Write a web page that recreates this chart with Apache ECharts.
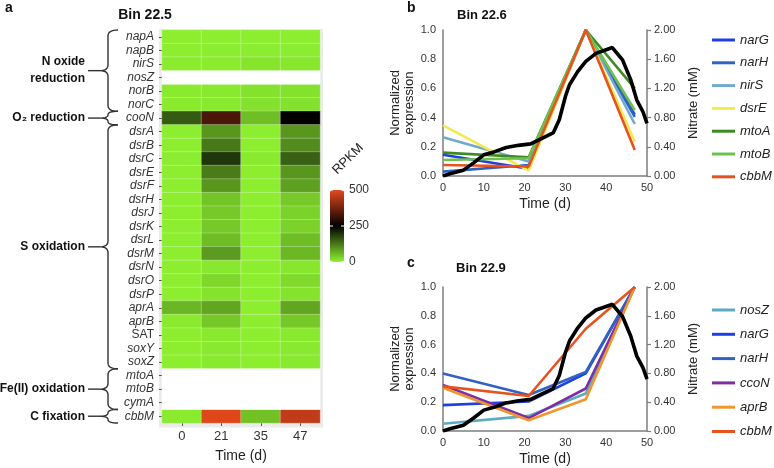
<!DOCTYPE html>
<html><head><meta charset="utf-8">
<script src="https://cdn.jsdelivr.net/npm/echarts@6/dist/echarts.min.js"></script>
<style>html,body{margin:0;padding:0;background:#fff}#c{width:774px;height:468px}</style>
</head><body><div id="c"></div>
<script>
// ---------- Panel a: heatmap data ----------
const genes = ['napA','napB','nirS','nosZ','norB','norC','cooN','dsrA','dsrB','dsrC','dsrE','dsrF','dsrH','dsrJ','dsrK','dsrL','dsrM','dsrN','dsrO','dsrP','aprA','aprB','SAT','soxY','soxZ','mtoA','mtoB','cymA','cbbM'];
const timepoints = ['0','21','35','47'];
const rpkmDay0  = [4,4,6,null,8,8,157,4,4,5,4,4,4,4,4,4,4,4,4,4,62,8,4,4,4,null,null,null,8];
const rpkmDay21 = [4,5,7,null,9,9,331,95,125,193,122,95,48,42,42,55,90,10,28,15,80,43,9,9,9,null,null,null,495];
const rpkmDay35 = [4,5,14,null,18,18,54,4,4,8,4,4,4,4,4,4,4,4,4,4,4,4,4,4,4,null,null,null,50];
const rpkmDay47 = [4,5,12,null,18,18,252,95,105,150,95,85,42,33,33,55,60,12,25,15,80,43,9,9,9,null,null,null,460];
const rpkmTicks = [0,250,500];
const groups = [
  {label:'N oxide\nreduction', from:'napA', to:'norC'},
  {label:'O\u2082 reduction', from:'cooN', to:'cooN'},
  {label:'S oxidation', from:'dsrA', to:'soxZ'},
  {label:'Fe(II) oxidation', from:'mtoA', to:'cymA'},
  {label:'C fixation', from:'cbbM', to:'cbbM'}
];

// ---------- Panels b, c: line data ----------
const sampleDays = [0,21,35,47];
const bGenes = ['narG','narH','nirS','dsrE','mtoA','mtoB','cbbM'];
const b_narG = [0.146,0.05,1.0,0.42];
const b_narH = [0.03,0.075,1.0,0.405];
const b_nirS = [0.265,0.10,1.0,0.356];
const b_dsrE = [0.347,0.037,1.0,0.235];
const b_mtoA = [0.16,0.128,1.0,0.60];
const b_mtoB = [0.11,0.122,1.0,0.45];
const b_cbbM = [0.075,0.065,1.0,0.178];
const cGenes = ['nosZ','narG','narH','ccoN','aprB','cbbM'];
const c_nosZ = [0.05,0.105,0.26,1.0];
const c_narG = [0.18,0.205,0.40,1.0];
const c_narH = [0.40,0.25,0.41,1.0];
const c_ccoN = [0.32,0.09,0.295,1.0];
const c_aprB = [0.30,0.075,0.22,1.0];
const c_cbbM = [0.31,0.243,0.71,1.0];
const nitrateDays = [0,1.7,5,7.5,10,12.5,15.5,18.5,21.5,24,27,28.5,30,31,33,35,37.5,40.5,41.5,44,46,47.5,49,50];
const nitrateMM   = [0,0.03,0.08,0.18,0.29,0.33,0.39,0.42,0.44,0.51,0.59,0.77,1.09,1.25,1.43,1.57,1.68,1.74,1.76,1.59,1.32,1.04,0.88,0.72];

const geneColors = {narG:'#1F3FE6', narH:'#3062C2', nirS:'#72AACF', dsrE:'#F2EA4E', mtoA:'#3B8A22', mtoB:'#6DC24E', cbbM:'#E8521F', nosZ:'#5DABC1', ccoN:'#7B2FA0', aprB:'#F0952F'};

const FONT = "'Liberation Sans', Arial, Helvetica, sans-serif";
const chart = echarts.init(document.getElementById('c'), null, {renderer:'canvas'});

// heatmap data
const cols = [rpkmDay0, rpkmDay21, rpkmDay35, rpkmDay47];
const heatData = [], naData = [];
genes.forEach((g,i)=>{ cols.forEach((col,j)=>{
  if (col[i] == null) naData.push([j,i,0]); else heatData.push([j,i,col[i]]);
});});

const bSeriesData = {narG:b_narG, narH:b_narH, nirS:b_nirS, dsrE:b_dsrE, mtoA:b_mtoA, mtoB:b_mtoB, cbbM:b_cbbM};
const cSeriesData = {nosZ:c_nosZ, narG:c_narG, narH:c_narH, ccoN:c_ccoN, aprB:c_aprB, cbbM:c_cbbM};
const pairs = (xs, ys) => xs.map((x,i)=>[x, ys[i]]);

const HM = {left:162, top:30, width:158, height:396.5};
const CB = {left:330, top:190, width:14, height:72};

const axisGrey = '#7d7d7d';
function lineXAxis(gi){ return {
  type:'value', gridIndex:gi, min:0, max:50, interval:10,
  axisLine:{show:true, lineStyle:{color:axisGrey, width:1.5}}, axisTick:{show:false}, splitLine:{show:false},
  axisLabel:{fontSize:11, color:'#333', margin:6, fontFamily:FONT},
  name:'Time (d)', nameLocation:'middle', nameGap:21, nameTextStyle:{fontSize:14, color:'#222', fontFamily:FONT}
};}
function leftYAxis(gi){ return {
  type:'value', gridIndex:gi, min:0, max:1, interval:0.2,
  axisLine:{show:true, lineStyle:{color:axisGrey, width:1.5}}, axisTick:{show:false}, splitLine:{show:false},
  axisLabel:{fontSize:11, color:'#333', margin:7, fontFamily:FONT, formatter:v=>v.toFixed(1)},
  name:'Normalized\nexpression', nameLocation:'middle', nameRotate:90, nameGap:24,
  nameTextStyle:{fontSize:13, color:'#222', lineHeight:14, fontFamily:FONT}
};}
function rightYAxis(gi){ return {
  type:'value', gridIndex:gi, position:'right', min:0, max:2, interval:0.4,
  axisLine:{show:true, lineStyle:{color:axisGrey, width:1.5}},
  axisTick:{show:true, length:4, lineStyle:{color:axisGrey, width:1.2}}, splitLine:{show:false},
  axisLabel:{fontSize:11, color:'#333', margin:7, fontFamily:FONT, formatter:v=>v.toFixed(2)},
  name:'Nitrate (mM)', nameLocation:'middle', nameRotate:90, nameGap:40,
  nameTextStyle:{fontSize:13, color:'#222', fontFamily:FONT}
};}

const series = [
  {type:'heatmap', name:'RPKM', xAxisIndex:0, yAxisIndex:0, data:heatData,
   itemStyle:{borderColor:'rgba(255,255,255,0.35)', borderWidth:0.8}, emphasis:{disabled:true}, z:2},
  {type:'heatmap', name:'NA', xAxisIndex:0, yAxisIndex:0, data:naData,
   itemStyle:{color:'#ffffff'}, emphasis:{disabled:true}, z:2}
];
bGenes.forEach(g=>series.push({type:'line', name:g, xAxisIndex:1, yAxisIndex:1, data:pairs(sampleDays, bSeriesData[g]),
  symbol:'none', lineStyle:{width:2.6, color:geneColors[g]}, itemStyle:{color:geneColors[g]}, z:3, emphasis:{disabled:true}}));
series.push({type:'line', name:'Nitrate b', xAxisIndex:1, yAxisIndex:2, data:pairs(nitrateDays, nitrateMM),
  symbol:'none', lineStyle:{width:3.6, color:'#000'}, itemStyle:{color:'#000'}, z:5, emphasis:{disabled:true}});
cGenes.forEach(g=>series.push({type:'line', name:g, xAxisIndex:2, yAxisIndex:3, data:pairs(sampleDays, cSeriesData[g]),
  symbol:'none', lineStyle:{width:2.6, color:geneColors[g]}, itemStyle:{color:geneColors[g]}, z:3, emphasis:{disabled:true}}));
series.push({type:'line', name:'Nitrate c', xAxisIndex:2, yAxisIndex:4, data:pairs(nitrateDays, nitrateMM),
  symbol:'none', lineStyle:{width:3.6, color:'#000'}, itemStyle:{color:'#000'}, z:5, emphasis:{disabled:true}});

const legendBase = {orient:'vertical', icon:'rect', itemWidth:23, itemHeight:3, padding:0, selectedMode:false,
  textStyle:{fontSize:13, fontStyle:'italic', color:'#222', lineHeight:14, fontFamily:FONT}};

const option = {
  animation:false,
  textStyle:{fontFamily:FONT},
  grid:[
    {left:HM.left, top:HM.top, width:HM.width, height:HM.height, containLabel:false},
    {left:443, top:30, width:204, height:146},
    {left:443, top:287, width:204, height:144}
  ],
  xAxis:[
    {type:'category', gridIndex:0, data:timepoints, axisLine:{show:false},
     axisTick:{show:true, alignWithLabel:true, length:3, lineStyle:{color:'#555'}}, splitLine:{show:false},
     axisLabel:{fontSize:13, color:'#333', margin:7, fontFamily:FONT, interval:0},
     name:'Time (d)', nameLocation:'middle', nameGap:26, nameTextStyle:{fontSize:14, color:'#222', fontFamily:FONT}},
    lineXAxis(1), lineXAxis(2)
  ],
  yAxis:[
    {type:'category', gridIndex:0, data:genes, inverse:true, axisLine:{show:false},
     axisTick:{show:true, alignWithLabel:true, interval:0, length:3, lineStyle:{color:'#555'}}, splitLine:{show:false},
     axisLabel:{margin:8, interval:0, formatter:v => v==='SAT' ? '{n|'+v+'}' : '{i|'+v+'}',
       rich:{i:{fontSize:12, fontStyle:'italic', color:'#333', fontFamily:FONT}, n:{fontSize:12, color:'#333', fontFamily:FONT}}}},
    leftYAxis(1), rightYAxis(1), leftYAxis(2), rightYAxis(2)
  ],
  visualMap:{type:'continuous', seriesIndex:0, min:0, max:500, orient:'vertical', calculable:false,
    left:CB.left, top:CB.top, itemWidth:CB.width, itemHeight:CB.height, padding:0, hoverLink:false,
    inRange:{color:['#8EF230','#000000','#E4481C']}},
  legend:[
    Object.assign({}, legendBase, {left:712, top:33, itemGap:8.8, data:bGenes}),
    Object.assign({}, legendBase, {left:712, top:303, itemGap:10.3, data:cGenes})
  ],
  series
};
chart.setOption(option);

// ---------- decorations: braces, labels, colorbar annotations ----------
const gfx = [];
gfx.push({type:'rect', shape:{x:HM.left-3, y:HM.top-1, width:HM.width+6, height:HM.height+2}, style:{fill:'#EBEBEB'}, z:0, silent:true});
const yPix = idx => chart.convertToPixel({yAxisIndex:0}, idx);
const half = Math.abs(yPix(1) - yPix(0)) / 2;
const xh = 118, xv = 108, xt = 100, xl = 88;
function quad(p0, c, p1, out){
  for (let k=1;k<=8;k++){ const t=k/8, u=1-t;
    out.push([u*u*p0[0]+2*u*t*c[0]+t*t*p1[0], u*u*p0[1]+2*u*t*c[1]+t*t*p1[1]]); }
}
groups.forEach(gr=>{
  const y1 = yPix(genes.indexOf(gr.from)) - half;
  const y2 = yPix(genes.indexOf(gr.to)) + half;
  const ym = (y1 + y2) / 2;
  const r = Math.min(6, (y2 - y1) / 4);
  const pts = [[xh,y1]];
  quad([xh,y1],[xv,y1],[xv,y1+r],pts);
  pts.push([xv, ym-r]);
  quad([xv,ym-r],[xv,ym],[xt,ym],pts);
  quad([xt,ym],[xv,ym],[xv,ym+r],pts);
  pts.push([xv, y2-r]);
  quad([xv,y2-r],[xv,y2],[xh,y2],pts);
  gfx.push({type:'polyline', shape:{points:pts}, style:{stroke:'#333', fill:null, lineWidth:1.4}, silent:true});
  gfx.push({type:'line', shape:{x1:xl, y1:ym, x2:xt, y2:ym}, style:{stroke:'#333', lineWidth:1.4}, silent:true});
  gfx.push({type:'text', x:85, y:ym, style:{text:gr.label, font:`bold 12px ${FONT}`, fill:'#111', align:'right', verticalAlign:'middle', lineHeight:17}, silent:true});
});
// colorbar labels and ticks
rpkmTicks.forEach(v=>{
  const y = CB.top + CB.height - v / 500 * CB.height;
  gfx.push({type:'text', x:CB.left+CB.width+5, y:y, style:{text:String(v), font:`12px ${FONT}`, fill:'#333', verticalAlign:'middle'}, silent:true});
  gfx.push({type:'line', shape:{x1:CB.left, y1:y, x2:CB.left+3, y2:y}, style:{stroke:'#fff', lineWidth:1}, z:10, silent:true});
  gfx.push({type:'line', shape:{x1:CB.left+CB.width-3, y1:y, x2:CB.left+CB.width, y2:y}, style:{stroke:'#fff', lineWidth:1}, z:10, silent:true});
});
gfx.push({type:'text', x:348, y:159, rotation:Math.PI/4, style:{text:'RPKM', font:`13px ${FONT}`, fill:'#222', align:'center', verticalAlign:'middle'}, silent:true});
// titles and panel letters
gfx.push({type:'text', x:5, y:8, style:{text:'a', font:`bold 14px ${FONT}`, fill:'#111', verticalAlign:'middle'}, silent:true});
gfx.push({type:'text', x:407, y:8, style:{text:'b', font:`bold 14px ${FONT}`, fill:'#111', verticalAlign:'middle'}, silent:true});
gfx.push({type:'text', x:407, y:263, style:{text:'c', font:`bold 14px ${FONT}`, fill:'#111', verticalAlign:'middle'}, silent:true});
gfx.push({type:'text', x:145, y:15, style:{text:'Bin 22.5', font:`bold 14px ${FONT}`, fill:'#111', align:'center', verticalAlign:'middle'}, silent:true});
gfx.push({type:'text', x:457, y:15, style:{text:'Bin 22.6', font:`bold 13px ${FONT}`, fill:'#111', verticalAlign:'middle'}, silent:true});
gfx.push({type:'text', x:456, y:268, style:{text:'Bin 22.9', font:`bold 13px ${FONT}`, fill:'#111', verticalAlign:'middle'}, silent:true});
chart.setOption({graphic:{elements:gfx}});
</script></body></html>
